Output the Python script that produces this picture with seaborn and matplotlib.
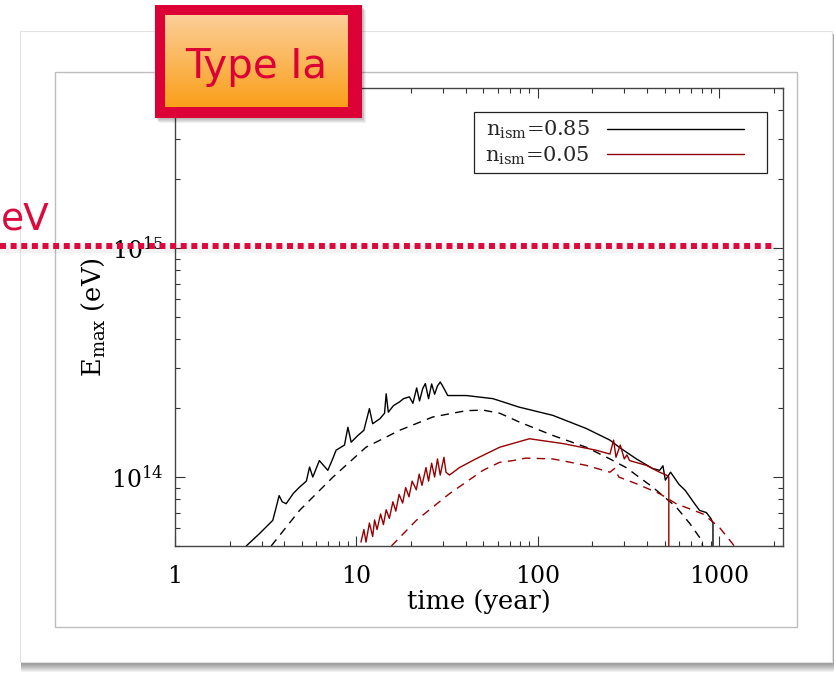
import numpy as np
import matplotlib
matplotlib.use('Agg')
import matplotlib.pyplot as plt
import seaborn as sns
from matplotlib.patches import Rectangle
from matplotlib.lines import Line2D
from matplotlib.colors import LinearSegmentedColormap
from matplotlib.ticker import FixedLocator, FuncFormatter, LogLocator, NullFormatter

# ---------------- data ----------------
# n_ism = 0.85, simulation (solid)
t_085_sim = [2.47, 2.92, 3.46, 3.60, 3.75, 3.90, 4.10, 4.50, 4.86, 5.30, 5.52, 5.75,
             6.25, 6.96, 7.40, 7.73, 8.60, 8.98, 9.36, 10.2, 11.0, 11.8, 12.3, 13.5,
             14.3, 14.6, 15.0, 16.0, 17.3, 18.2, 19.6, 20.5, 21.5, 22.3, 23.2, 24.0,
             25.0, 26.0, 27.0, 28.0, 29.0, 29.8, 31.9, 40.4, 56.6, 79.0, 121, 185,
             250, 281, 350, 430, 470, 490, 505, 540, 600, 650, 720, 780, 850, 900,
             925, 925]
E_085_sim = [5.0e13, 5.66e13, 6.47e13, 7.3e13, 8.3e13, 7.8e13, 7.65e13, 8.5e13, 9.04e13,
             9.6e13, 1.106e14, 1.0e14, 1.18e14, 1.07e14, 1.2e14, 1.31e14, 1.38e14,
             1.65e14, 1.42e14, 1.52e14, 1.6e14, 1.99e14, 1.71e14, 1.8e14, 1.9e14,
             2.31e14, 1.92e14, 2.05e14, 2.13e14, 2.2e14, 2.24e14, 2.1e14, 2.45e14,
             2.15e14, 2.43e14, 2.56e14, 2.2e14, 2.55e14, 2.3e14, 2.5e14, 2.6e14,
             2.51e14, 2.27e14, 2.27e14, 2.2e14, 2.02e14, 1.86e14, 1.63e14, 1.45e14,
             1.35e14, 1.2e14, 1.09e14, 1.07e14, 1.12e14, 9.7e13, 1.05e14, 9.3e13,
             8.75e13, 7.8e13, 7.15e13, 7.0e13, 6.6e13, 6.3e13, 3.0e13]
# n_ism = 0.85, analytic (dashed)
t_085_ana = [3.39, 4.86, 7.43, 11.3, 17.3, 26.4, 40.4, 50.0, 61.7, 79.0, 121, 185,
             250, 307, 430, 580, 690, 800, 830]
E_085_ana = [5.0e13, 7.15e13, 1.0e14, 1.35e14, 1.6e14, 1.83e14, 1.95e14, 1.96e14,
             1.9e14, 1.74e14, 1.52e14, 1.35e14, 1.2e14, 1.1e14, 9.04e13, 7.4e13,
             6.26e13, 5.3e13, 4.5e13]
# n_ism = 0.05, simulation (solid)
t_005_sim = [10.6, 11.0, 11.3, 11.8, 12.3, 12.6, 13.0, 13.6, 14.1, 14.6, 15.2, 15.9,
             16.5, 17.2, 18.0, 18.7, 19.5, 20.3, 21.4, 22.2, 23.0, 24.2, 25.0, 26.0,
             27.0, 28.0, 29.0, 30.4, 31.2, 32.6, 37.0, 45.5, 61.7, 90.0, 138, 210,
             250, 262, 270, 285, 300, 310, 321, 397, 470, 512, 528, 528]
E_005_sim = [5.2e13, 5.9e13, 5.2e13, 6.3e13, 5.5e13, 6.5e13, 5.9e13, 6.9e13, 6.2e13,
             7.2e13, 6.6e13, 7.8e13, 7.1e13, 8.4e13, 7.7e13, 9.0e13, 8.2e13, 9.6e13,
             8.8e13, 1.03e14, 9.2e13, 1.1e14, 9.6e13, 1.15e14, 1.0e14, 1.2e14,
             1.02e14, 1.22e14, 1.05e14, 1.02e14, 1.1e14, 1.2e14, 1.35e14, 1.47e14,
             1.40e14, 1.31e14, 1.26e14, 1.45e14, 1.22e14, 1.38e14, 1.2e14, 1.25e14,
             1.18e14, 1.125e14, 1.05e14, 1.02e14, 1.0e14, 3.0e13]
# n_ism = 0.05, analytic (dashed)
t_005_ana = [15.6, 21.4, 32.6, 49.9, 61.7, 73.0, 86.0, 121, 185, 250, 265, 280, 350,
             470, 580, 815, 1000, 1190, 1230]
E_005_ana = [5.0e13, 6.47e13, 8.46e13, 1.07e14, 1.16e14, 1.18e14, 1.21e14, 1.2e14,
             1.125e14, 1.05e14, 1.09e14, 1.0e14, 9.35e13, 8.46e13, 7.65e13, 6.9e13,
             6.05e13, 5.1e13, 4.9e13]

legend_labels = [r'$\mathregular{n_{ism}}$=0.85', r'$\mathregular{n_{ism}}$=0.05']
x_ticks = [1, 10, 100, 1000]
y_ticks = [1e14, 1e15]

# ---------------- style ----------------
sns.set_theme(style='ticks')
plt.rcParams['font.family'] = ['DejaVu Serif']
plt.rcParams['mathtext.fontset'] = 'dejavuserif'

BLACK = '#000000'
DRED = '#960000'
CRIMSON = '#DC0A3C'

W, H = 837, 673
fig = plt.figure(figsize=(W / 100, H / 100), dpi=100)
fig.patch.set_facecolor('white')


def fx(px):
    return px / W


def fy(py):
    return 1 - py / H


def frect(x0, y0, x1, y1, **kw):
    r = Rectangle((fx(x0), fy(y1)), (x1 - x0) / W, (y1 - y0) / H,
                  transform=fig.transFigure, **kw)
    fig.add_artist(r)
    return r


# slide card with shadow
for k in range(1, 11):
    frect(21, 34, 832 + min(k, 4) * 0.6, 662 + k, facecolor='black', alpha=0.05,
          lw=0, zorder=-12)
frect(20, 31, 832, 662, facecolor='white', edgecolor='#e2e2e2', lw=0.8, zorder=-10)
frect(55, 72, 797, 627, facecolor='white', edgecolor='#bdbdbd', lw=1.0, zorder=-9)

# ---------------- chart ----------------
AX_L, AX_R, AX_T, AX_B = 175, 783, 88, 546
ax = fig.add_axes([fx(AX_L), fy(AX_B), (AX_R - AX_L) / W, (AX_B - AX_T) / H])
ax.set_facecolor('white')


def axx(px):
    return (px - AX_L) / (AX_R - AX_L)


def axy(py):
    return (AX_B - py) / (AX_B - AX_T)


dash = (0, (6, 4.5))
sns.lineplot(x=t_085_sim, y=E_085_sim, ax=ax, color=BLACK, lw=1.0,
             estimator=None, sort=False)
sns.lineplot(x=t_085_ana, y=E_085_ana, ax=ax, color=BLACK, lw=1.0,
             estimator=None, sort=False, linestyle=dash)
sns.lineplot(x=t_005_sim, y=E_005_sim, ax=ax, color=DRED, lw=1.0,
             estimator=None, sort=False)
sns.lineplot(x=t_005_ana, y=E_005_ana, ax=ax, color=DRED, lw=1.0,
             estimator=None, sort=False, linestyle=dash)

ax.set_xscale('log')
ax.set_yscale('log')
ax.set_xlim(1, 2250)
ax.set_ylim(5e13, 5e15)

ax.xaxis.set_major_locator(FixedLocator(x_ticks))
ax.xaxis.set_major_formatter(FuncFormatter(lambda v, p: f'{v:g}'))
ax.xaxis.set_minor_locator(LogLocator(base=10, subs=range(2, 10), numticks=30))
ax.xaxis.set_minor_formatter(NullFormatter())
ax.yaxis.set_major_locator(FixedLocator(y_ticks))
ax.yaxis.set_major_formatter(FuncFormatter(lambda v, p: r'$10^{%d}$' % round(np.log10(v))))
ax.yaxis.set_minor_locator(LogLocator(base=10, subs=range(2, 10), numticks=30))
ax.yaxis.set_minor_formatter(NullFormatter())

ax.tick_params(which='both', direction='in', top=True, right=True,
               color='#333333', width=0.8, labelsize=17, labelcolor='black')
ax.tick_params(which='major', length=7)
ax.tick_params(which='minor', length=3.5)
ax.tick_params(axis='x', which='major', pad=14)
ax.tick_params(axis='y', which='major', pad=8)
for s in ax.spines.values():
    s.set_color('#444444')
    s.set_linewidth(1.0)

ax.set_xlabel('time (year)', fontsize=18.5, color='black')
ax.xaxis.set_label_coords(0.5, -0.094)
ax.set_ylabel(r'$\mathregular{E_{max}}$ (eV)', fontsize=18.5, color='black')
ax.yaxis.set_label_coords(-0.112, 0.5)

# legend: entries without frame, frame drawn as its own box
handles = [Line2D([], [], color=BLACK, lw=1.0), Line2D([], [], color=DRED, lw=1.0)]
leg = ax.legend(handles, legend_labels, loc='upper right',
                bbox_to_anchor=(axx(744), axy(119)),
                borderaxespad=0, borderpad=0, markerfirst=False, handlelength=6.6,
                handletextpad=0.8, fontsize=15, frameon=False, labelspacing=0.15)
ax.add_patch(Rectangle((axx(474), axy(173)), axx(767) - axx(474), axy(112) - axy(173),
                       transform=ax.transAxes, facecolor='none', edgecolor='#222222',
                       lw=0.9, zorder=6))

# ---------------- slide annotations ----------------
fig.add_artist(Line2D([0, fx(773)], [fy(249), fy(249)], transform=fig.transFigure,
                      color='black', alpha=0.05, lw=6, zorder=4))
fig.add_artist(Line2D([0, fx(773)], [fy(246), fy(246)], transform=fig.transFigure,
                      color=CRIMSON, lw=4.3, linestyle=(0, (1.0, 0.78)), zorder=5))
fig.text(fx(1), fy(229), 'eV', ha='left', va='baseline', color=CRIMSON,
         fontsize=27, family=['DejaVu Sans'], zorder=6)

# "Type Ia" sticker
sx = fig.add_axes([fx(150), fy(126), 222 / W, 126 / H])
sx.set_zorder(10)
sx.axis('off')
for k in range(1, 6):
    sx.add_patch(Rectangle((155 + k * 0.8, 5 + k), 207, 113, facecolor='black',
                           alpha=0.06, lw=0))
sx.add_patch(Rectangle((155, 5), 207, 113, facecolor='#DC0037', lw=0))
grad = LinearSegmentedColormap.from_list('g', ['#FCCE98', '#FA9F1A'])
sx.imshow(np.linspace(0, 1, 200).reshape(-1, 1), cmap=grad, aspect='auto',
          extent=(165, 348, 107, 15), origin='upper', zorder=2)
sx.text(256, 78, 'Type Ia', ha='center', va='baseline', color='#DC0037',
        fontsize=29, family=['DejaVu Sans'], zorder=3)
sx.set_xlim(150, 372)
sx.set_ylim(126, 0)

fig.savefig('out.png', dpi=100)
